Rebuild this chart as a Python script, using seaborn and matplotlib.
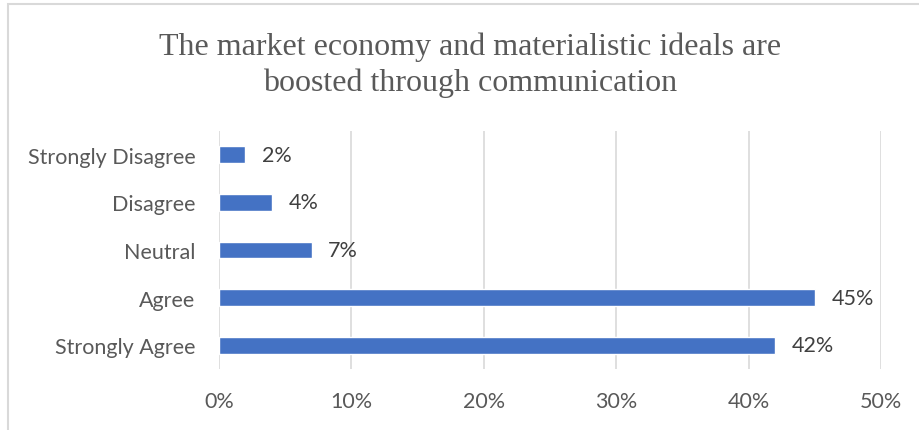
import matplotlib
matplotlib.use("Agg")
import matplotlib.pyplot as plt
import seaborn as sns
import pandas as pd
from matplotlib.patches import Rectangle

# Survey responses (share of respondents, %)
categories = ["Strongly Disagree", "Disagree", "Neutral", "Agree", "Strongly Agree"]
values = [2, 4, 7, 45, 42]
x_ticks = [0, 10, 20, 30, 40, 50]
x_tick_labels = ["0%", "10%", "20%", "30%", "40%", "50%"]
title = "The market economy and materialistic ideals are\nboosted through communication"

df = pd.DataFrame({"response": categories, "share": values})

sns.set_theme(style="white")
plt.rcParams["font.family"] = ["Lato", "DejaVu Sans"]

W, H = 920, 431
fig = plt.figure(figsize=(W / 100, H / 100), dpi=100)
fig.patch.set_facecolor("white")

# chart-area frame
fig.patches.append(Rectangle((8 / W, -0.05), 1.1, 1 - 5 / H + 0.05,
                             transform=fig.transFigure, fill=False,
                             edgecolor="#d9d9d9", linewidth=1.5))

ax = fig.add_axes([219 / W, 1 - 370 / H, (881 - 219) / W, (370 - 132) / H])
sns.barplot(data=df, x="share", y="response", order=categories,
            color="#4472C4", saturation=1, width=0.35, ax=ax)

ax.set_xlim(0, 50)
ax.set_ylim(4.5, -0.5)
ax.set_xticks(x_ticks)
ax.set_xticklabels(x_tick_labels)
ax.xaxis.grid(True, color="#d9d9d9", linewidth=1.2)
ax.set_axisbelow(True)
for s in ax.spines.values():
    s.set_visible(False)
ax.set_xlabel("")
ax.set_ylabel("")
ax.tick_params(axis="x", length=0, pad=16, labelsize=15.5, labelcolor="#595959")
ax.tick_params(axis="y", length=0, pad=17, labelsize=15.5, labelcolor="#595959")

for i, v in enumerate(values):
    ax.annotate(f"{v}%", xy=(v, i), xytext=(12, 0), textcoords="offset points",
                ha="left", va="center", fontsize=15.5, color="#404040")

fig.text(470 / W, 1 - 65 / H, title, ha="center", va="center",
         family=["Liberation Serif", "DejaVu Serif"], fontsize=23,
         color="#595959", linespacing=1.28)

fig.savefig("out.png", dpi=100, facecolor="white")
